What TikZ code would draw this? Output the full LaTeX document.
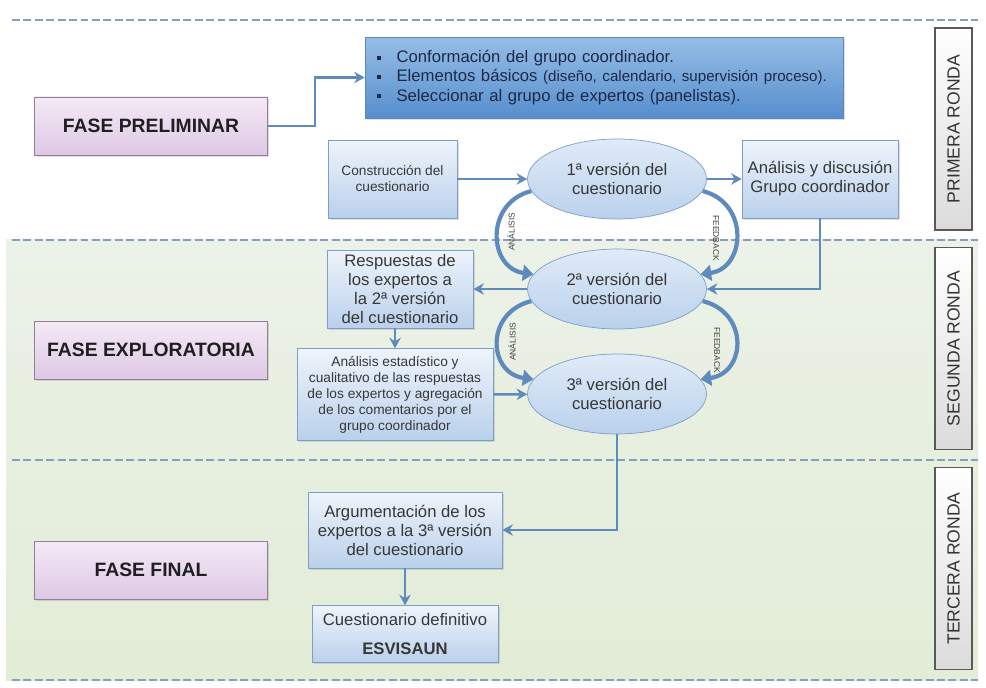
\documentclass[tikz,border=0pt]{standalone}
\usepackage{fontspec}
\setmainfont{Liberation Sans}
\usetikzlibrary{arrows.meta,positioning,shapes.geometric,shadows}
\definecolor{faseA}{RGB}{244,234,246}
\definecolor{faseB}{RGB}{222,200,228}
\definecolor{faseline}{RGB}{150,125,150}
\definecolor{objA}{RGB}{150,190,230}
\definecolor{objB}{RGB}{86,142,206}
\definecolor{objline}{RGB}{95,135,185}
\definecolor{objtext}{RGB}{30,40,70}
\definecolor{pasoA}{RGB}{238,244,251}
\definecolor{pasoB}{RGB}{186,208,235}
\definecolor{pasoline}{RGB}{125,158,198}
\definecolor{verA}{RGB}{224,235,248}
\definecolor{verB}{RGB}{186,209,236}
\definecolor{flecha}{RGB}{95,138,190}
\definecolor{rayacol}{RGB}{135,158,188}
\definecolor{zonaA}{RGB}{236,242,232}
\definecolor{zonaB}{RGB}{226,236,214}
\definecolor{texto}{RGB}{55,55,55}
\newcommand{\punto}{\raisebox{1.6pt}{\rule{2.4pt}{2.4pt}}\hspace{9pt}}

\begin{document}
\begin{tikzpicture}[x=0.02cm, y=-0.02cm,
  fase/.style={draw=faseline, top color=faseA, bottom color=faseB,
               minimum width=4.66cm, minimum height=1.16cm, text=black!88,
               font=\fontsize{11}{13}\selectfont\bfseries,
               drop shadow={shadow xshift=1pt, shadow yshift=-1pt, opacity=.25}},
  paso/.style={draw=pasoline, top color=pasoA, bottom color=pasoB, align=center,
               text=texto, inner sep=1pt, font=\fontsize{9.5}{10.8}\selectfont,
               drop shadow={shadow xshift=1pt, shadow yshift=-1pt, opacity=.25}},
  chico/.style={font=\fontsize{7.8}{9.1}\selectfont},
  version/.style={ellipse, draw=pasoline, top color=verA, bottom color=verB,
                  minimum width=3.58cm, minimum height=1.6cm, inner sep=0pt,
                  align=center, text=texto, font=\fontsize{9.5}{11.2}\selectfont},
  ronda/.style={draw=black!65, line width=0.9pt, top color=white, bottom color=black!14,
                rotate=90, minimum width=4.04cm, minimum height=0.74cm,
                font=\fontsize{10}{12}\selectfont, text=black!80},
  ar/.style={-{Stealth[length=6pt,width=6.5pt]}, line width=1.4pt, draw=flecha},
  giro/.style={-{Triangle[length=6pt,width=9pt]}, line width=2.4pt, draw=flecha},
  lbl/.style={font=\fontsize{4.8}{5}\selectfont, text=black!75, inner sep=0pt},
  corte/.style={draw=rayacol, line width=1.5pt, dash pattern=on 4.5pt off 2pt},
]
  \useasboundingbox (0,0) rectangle (986,688);
  \fill[white] (0,0) rectangle (986,688);
  \shade[top color=zonaA, bottom color=zonaB] (6,240) rectangle (978,680);
  \foreach \y in {20,240,460,680}
    \draw[corte] (12,\y) -- (978,\y);

  % fases
  \node[fase] (pre) at (151,126) {FASE PRELIMINAR};
  \node[fase] (exp) at (151,350) {FASE EXPLORATORIA};
  \node[fase] (fin) at (151,570) {FASE FINAL};

  % rondas
  \node[ronda] (r1) at (953.5,129) {PRIMERA RONDA};
  \node[ronda] (r2) at (953.5,348.5) {SEGUNDA RONDA};
  \node[ronda] (r3) at (953.5,568.5) {TERCERA RONDA};

  \node[draw=objline, top color=objA, bottom color=objB, minimum width=9.56cm,
        minimum height=1.62cm, text width=9.1cm, align=left, text=objtext,
        font=\fontsize{9.5}{11}\selectfont,
        drop shadow={shadow xshift=1pt, shadow yshift=-1pt, opacity=.25}] (obj) at (604,77.5)
    {\punto Conformación del grupo coordinador.\\
     \punto Elementos básicos {\fontsize{8.6}{11}\selectfont(diseño, calendario, supervisión proceso).}\\
     \punto Seleccionar al grupo de expertos (panelistas).};

  \node[paso, chico, minimum width=2.58cm, minimum height=1.56cm] (cons) at (392.5,179)
    {Construcción del\\cuestionario};
  \node[version] (v1) at (617,179) {1ª versión del\\cuestionario};
  \node[paso, minimum width=3.12cm, minimum height=1.56cm] (disc) at (820,179)
    {Análisis y discusión\\Grupo coordinador};
  \node[version] (v2) at (617,289) {2ª versión del\\cuestionario};
  \node[version] (v3) at (617,394) {3ª versión del\\cuestionario};

  \node[paso, minimum width=2.92cm, minimum height=1.56cm] (resp) at (400,289)
    {Respuestas de\\los expertos a\\la 2ª versión\\del cuestionario};
  \node[paso, chico, minimum width=3.92cm, minimum height=1.84cm,
        below=0.4cm of resp, xshift=-0.1cm] (est)
    {Análisis estadístico y\\cualitativo de las respuestas\\de los expertos y agregación\\de los comentarios por el\\grupo coordinador};

  \node[paso, minimum width=3.88cm, minimum height=1.52cm] (arg) at (405,530)
    {Argumentación de los\\expertos a la 3ª versión\\del cuestionario};
  \node[paso, minimum width=3.72cm, minimum height=1.14cm, below=0.74cm of arg] (def)
    {Cuestionario definitivo\\[5.5pt]\textbf{ESVISAUN}};

  \draw[ar] (pre.east) -- ++(47,0) |- (obj);
  \draw[ar] (cons) -- (v1);
  \draw[ar] (v1) -- (disc);
  \draw[ar] (disc) |- (v2);
  \draw[ar] (v2) -- (resp);
  \draw[ar] (resp.south -| est.north) -- (est.north);
  \draw[ar] (est) -- (v3);
  \draw[ar] (v3) |- (arg);
  \draw[ar] (arg) -- (def);

  % ciclos analisis / feedback
  \draw[giro] (v1.188) .. controls +(-47,12) and +(-45,-6) .. (v2.170);
  \draw[giro] (v1.352) .. controls +(47,12) and +(45,-6) .. (v2.10);
  \draw[giro] (v2.188) .. controls +(-47,12) and +(-45,-6) .. (v3.170);
  \draw[giro] (v2.352) .. controls +(47,12) and +(45,-6) .. (v3.10);
  \node[lbl, rotate=90] (an1) at (511,232) {ANÁLISIS};
  \node[lbl, rotate=-90] (fb1) at (716,238) {FEEDBACK};
  \node[lbl, rotate=90] (an2) at (512,342) {ANÁLISIS};
  \node[lbl, rotate=-90] (fb2) at (717,350) {FEEDBACK};
\end{tikzpicture}
\end{document}
